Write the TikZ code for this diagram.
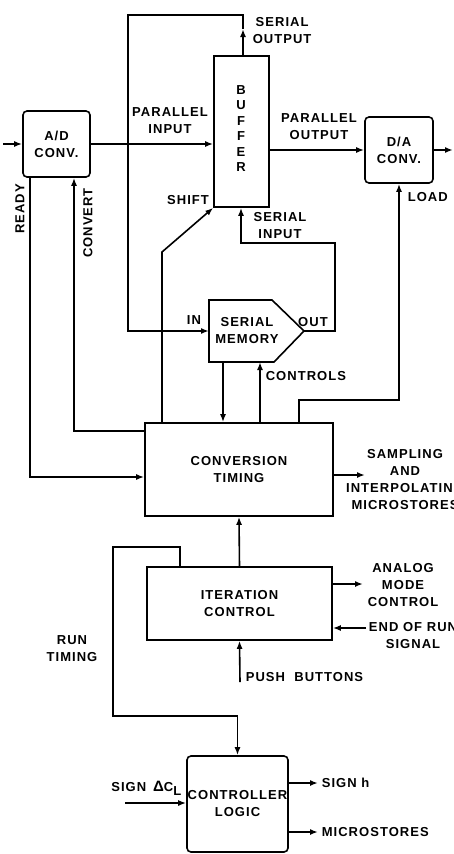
\documentclass[tikz,border=0pt]{standalone}
\usepackage{fontspec}
\setmainfont{Liberation Sans}[LetterSpace=8]
\usetikzlibrary{arrows.meta}

\newcommand{\diagfont}{\fontsize{13}{17}\selectfont\bfseries}

\begin{document}
\begin{tikzpicture}[x=1pt,y=-1pt,line width=1.6pt,
    arr/.style={-{Latex[length=8pt,width=6pt]}},
    blk/.style={draw,inner sep=0pt,align=center,font=\diagfont},
    rblk/.style={blk,rounded corners=4pt},
    lbl/.style={inner sep=0pt,align=center,font=\diagfont}]
    \useasboundingbox (0,0) rectangle (453,854);

    % blocks
    \node[rblk,minimum width=67pt,minimum height=66pt] (ad) at (56.5,144) {A/D\\CONV.};
    \node[blk,minimum width=55pt,minimum height=151pt] (buf) at (241.5,131.5) {};
    \node[rblk,minimum width=68pt,minimum height=66pt] (da) at (399,150) {D/A\\CONV.};
    \node[blk,minimum width=188pt,minimum height=93pt] (ct) at (239,469.5) {CONVERSION\\TIMING};
    \node[blk,minimum width=185pt,minimum height=73pt] (ic) at (239.5,603.5) {ITERATION\\CONTROL};
    \node[rblk,minimum width=101pt,minimum height=96pt] (cl) at (237.5,804) {CONTROLLER\\LOGIC};

    % serial memory
    \coordinate (memW) at (209,331);
    \coordinate (memE) at (304,331);
    \coordinate (memS1) at (223,362);
    \coordinate (memS2) at (260,362);
    \draw (209,300) -- (272,300) -- (memE) -- (274,362) -- (209,362) -- cycle;
    \node[lbl] (mem) at (247,331) {SERIAL\\MEMORY};

    \foreach \ch [count=\i] in {B,U,F,F,E,R}
      \node[lbl] (bf\i) at (241,{90+(\i-1)*15.4}) {\ch};

    % points on the lines
    \coordinate (adin) at (3,144);
    \coordinate (somid) at (243,29);
    \coordinate (sotop) at (243,15);
    \coordinate (soleft) at (128,15);
    \coordinate (daout) at (453,150);
    \coordinate (ldA) at (299,400);
    \coordinate (siR) at (335,243);
    \coordinate (siL) at (241,243);
    \coordinate (shA) at (162,252);
    \coordinate (cvA) at (74,431);
    \coordinate (rdA) at (30,477);
    \coordinate (smp) at (365,475);
    \coordinate (anl) at (363,584);
    \coordinate (eor) at (366,628);
    \coordinate (pb) at (240,682);
    \coordinate (rtA) at (180,547);
    \coordinate (rtB) at (113,547);
    \coordinate (rtC) at (113,716);
    \coordinate (sgn) at (125,803);
    \coordinate (sgh) at (318,783);
    \coordinate (mst) at (318,832);

    % connectors
    \draw[arr] (adin) -- (ad.west);
    \draw[arr] (ad.east) -- (buf.west |- ad.east);
    \draw[arr] (buf.north -| somid) -- (somid);
    \draw[arr] (somid) -- (sotop) -- (soleft) |- (memW);
    \draw[arr] (buf.east |- da.west) -- (da.west);
    \draw[arr] (da.east) -- (daout);
    \draw[arr] (ct.north -| ldA) -- (ldA) -| (da.south);
    \draw[arr] (memE) -| (siR) -- (siL) -- (siL |- buf.south);
    \draw[arr] (ct.north -| shA) -- (shA) -- (buf.south west);
    \draw[arr] (memS1) -- (memS1 |- ct.north);
    \draw[arr] (memS2 |- ct.north) -- (memS2);
    \draw[arr] (ct.west |- cvA) -- (cvA) -- (cvA |- ad.south);
    \draw[arr] (rdA |- ad.south) -- (rdA) -- (ct.west |- rdA);
    \draw[arr] (ct.east |- smp) -- (smp);
    \draw[arr] (ic.north) -- (ct.south);
    \draw[arr] (ic.east |- anl) -- (anl);
    \draw[arr] (eor) -- (ic.east |- eor);
    \draw[arr] (pb) -- (ic.south);
    \draw[arr] (ic.north -| rtA) -- (rtA) -- (rtB) -- (rtC) -- (rtC -| cl.north) -- (cl.north);
    \draw[arr] (sgn) -- (cl.west |- sgn);
    \draw[arr] (cl.east |- sgh) -- (sgh);
    \draw[arr] (cl.east |- mst) -- (mst);

    % labels
    \node[lbl] (pin) at (170,121) {PARALLEL\\INPUT};
    \node[lbl] (shl) at (188,200) {SHIFT};
    \node[lbl,anchor=west] (sol) at (252,31) {SERIAL\\OUTPUT};
    \node[lbl] (pout) at (319,127) {PARALLEL\\OUTPUT};
    \node[lbl,anchor=west] (lol) at (407,197) {LOAD};
    \node[lbl] (sil) at (280,226) {SERIAL\\INPUT};
    \node[lbl] (inl) at (194,320) {IN};
    \node[lbl] (outl) at (313,322) {OUT};
    \node[lbl,anchor=west] (cnl) at (265,376) {CONTROLS};
    \node[lbl,rotate=90] (rdl) at (20,209) {READY};
    \node[lbl,rotate=90] (cvl) at (88,223) {CONVERT};
    \node[lbl] (smpl) at (405,480) {SAMPLING\\AND\\INTERPOLATING\\MICROSTORES};
    \node[lbl,anchor=west] (anll) at (367,585) {ANALOG\\MODE\\CONTROL};
    \node[lbl] (eorl) at (413,636) {END OF RUN\\SIGNAL};
    \node[lbl,anchor=west] (pbl) at (245,677) {PUSH\ \ BUTTONS};
    \node[lbl] (rtl) at (72,649) {RUN\\TIMING};
    \node[lbl,anchor=east] (sgnl) at (182,788) {SIGN\ \,{\fontsize{15}{17}\selectfont Δ}C\raisebox{-4pt}{L}};
    \node[lbl,anchor=west] (sghl) at (321,783) {SIGN h};
    \node[lbl,anchor=west] (mstl) at (321,832) {MICROSTORES};
\end{tikzpicture}
\end{document}
